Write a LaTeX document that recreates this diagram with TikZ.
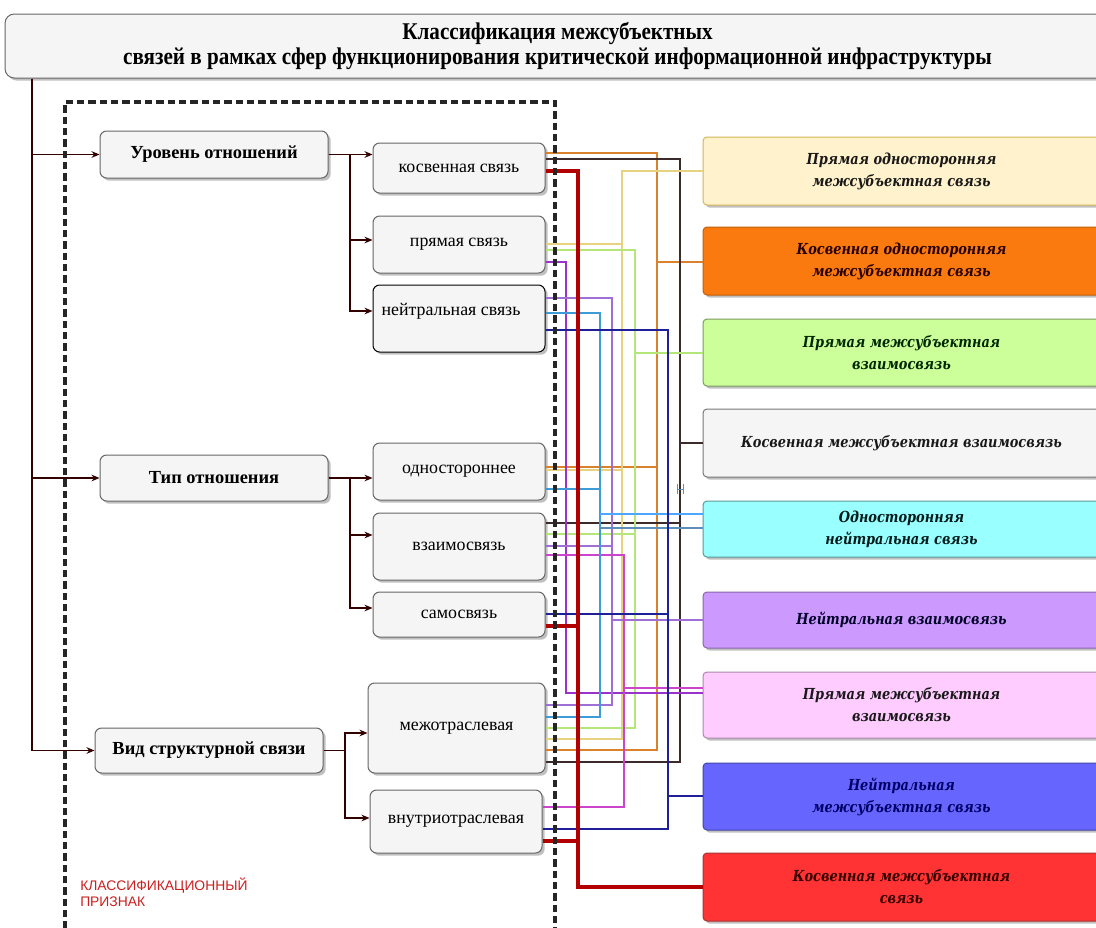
\documentclass[tikz,border=0pt]{standalone}
\usepackage{fontspec}
\setmainfont{Liberation Serif}
\newfontfamily\rfont[FakeStretch=0.85]{DejaVu Serif}
\newfontfamily\lsans{Liberation Sans}
\newfontfamily\tfont[FakeStretch=0.88]{Liberation Serif}
\usetikzlibrary{arrows.meta,shadows}
\definecolor{boxfill}{HTML}{F5F5F5}
\definecolor{boxline}{HTML}{666666}
\definecolor{conn}{HTML}{330000}
\definecolor{c1f}{HTML}{FFF2CC}\definecolor{c1d}{HTML}{D6B656}
\definecolor{c2f}{HTML}{FA7A0F}\definecolor{c2d}{HTML}{C0600C}
\definecolor{c3f}{HTML}{CCFF99}\definecolor{c3d}{HTML}{7A9A60}
\definecolor{c4f}{HTML}{F5F5F5}\definecolor{c4d}{HTML}{777777}
\definecolor{c5f}{HTML}{99FFFF}\definecolor{c5d}{HTML}{5A9A9A}
\definecolor{c6f}{HTML}{CC99FF}\definecolor{c6d}{HTML}{8866AA}
\definecolor{c7f}{HTML}{FFCCFF}\definecolor{c7d}{HTML}{AA88AA}
\definecolor{c8f}{HTML}{6666FF}\definecolor{c8d}{HTML}{4444AA}
\definecolor{c9f}{HTML}{FF3333}\definecolor{c9d}{HTML}{AA3333}
\definecolor{lOr}{HTML}{D9822B}
\definecolor{lDk}{HTML}{3D2B2B}
\definecolor{lRd}{HTML}{B20000}
\definecolor{lYe}{HTML}{E6D27F}
\definecolor{lGr}{HTML}{B5E67A}
\definecolor{lVi}{HTML}{9933CC}
\definecolor{lPu}{HTML}{9F6FD6}
\definecolor{lMa}{HTML}{CC44CC}
\definecolor{lLb}{HTML}{3D9BD6}
\definecolor{lBb}{HTML}{4DA6FF}
\definecolor{lSb}{HTML}{5B8FB9}
\definecolor{lNv}{HTML}{1F1F99}
\definecolor{lgnd}{HTML}{CC1F1F}
\newcommand\bx[7]{\node[#6, minimum width={(#4-#2)*0.75pt}, minimum height={(#5-#3)*0.75pt}] (#1) at ({(#2+#4)/2},{(#3+#5)/2}) {#7};}
\begin{document}
\begin{tikzpicture}[x=0.75pt,y=-0.75pt,
  shd/.style={drop shadow={shadow xshift=2pt,shadow yshift=-2pt,opacity=0.35,fill=black!70}},
  box/.style={draw=boxline, fill=boxfill, rounded corners=5pt, line width=0.75pt, shd, inner sep=0pt, align=center},
  lone/.style={box, font=\bfseries\fontsize{13.8}{15}\selectfont},
  ltwo/.style={box, font=\fontsize{13.4}{15}\selectfont},
  res/.style={rounded corners=3pt, line width=0.75pt, shd, inner sep=0pt, align=center, font=\rfont\bfseries\itshape\fontsize{11.4}{16.5}\selectfont},
  cn/.style={draw=conn, line width=1.1pt, -{Stealth[length=6pt,width=5pt]}},
  thin/.style={line width=1pt},
  lor/.style={thin, draw=lOr}, ldk/.style={thin, draw=lDk, line width=1.1pt},
  lrd/.style={draw=lRd, line width=3pt}, lye/.style={thin, draw=lYe},
  lgr/.style={thin, draw=lGr}, lvi/.style={thin, draw=lVi},
  lpu/.style={thin, draw=lPu}, lma/.style={thin, draw=lMa},
  llb/.style={thin, draw=lLb}, lbb/.style={thin, draw=lBb},
  lsb/.style={thin, draw=lSb}, lnv/.style={draw=lNv, line width=2.2pt}
]
\useasboundingbox (0,0) rectangle (1096,928);
\fill[white] (0,0) rectangle (1096,928);

% title
\node[box, rounded corners=7pt, minimum width={1105*0.75pt}, minimum height={64*0.75pt},
  font=\tfont\bfseries\fontsize{18}{19}\selectfont] (title) at (557.5,46)
  {Классификация межсубъектных\\связей в рамках сфер функционирования критической информационной инфраструктуры};

% level 1
\bx{urov}{100}{131}{328}{178}{lone}{Уровень отношений}
\bx{tip}{100}{455}{328}{501}{lone}{Тип отношения}
\bx{vid}{95}{728}{323}{773}{lone}{Вид структурной связи}

% level 2
\bx{kos}{373}{143}{545}{193}{ltwo}{косвенная связь}
\bx{pry}{373}{216}{545}{273}{ltwo}{прямая связь}
\bx{ney}{373}{285}{545}{352}{ltwo, draw=black}{}
\node[font=\fontsize{13.4}{15}\selectfont, inner sep=0pt] (neyT) at (451,311) {нейтральная связь};
\bx{odn}{373}{443}{545}{500}{ltwo}{одностороннее}
\bx{vza}{373}{513}{545}{580}{ltwo}{взаимосвязь}
\bx{sam}{373}{592}{545}{637}{ltwo}{самосвязь}
\bx{mej}{368}{683}{545}{773}{ltwo}{межотраслевая}
\bx{vnu}{370}{790}{542}{853}{ltwo}{внутриотраслевая}

% result boxes
\bx{R1}{703}{137}{1100}{205}{res, fill=c1f, draw=c1d, text=black!90}{Прямая односторонняя\\межсубъектная связь}
\bx{R2}{703}{227}{1100}{295}{res, fill=c2f, draw=c2d, text=black!85!red}{Косвенная односторонняя\\межсубъектная связь}
\bx{R3}{703}{319}{1100}{386}{res, fill=c3f, draw=c3d, text=black!85!green}{Прямая межсубъектная\\взаимосвязь}
\bx{R4}{703}{409}{1100}{477}{res, fill=c4f, draw=c4d, text=black!90}{Косвенная межсубъектная взаимосвязь}
\bx{R5}{703}{501}{1100}{557}{res, fill=c5f, draw=c5d, text=black!80!teal}{Односторонняя\\нейтральная связь}
\bx{R6}{703}{592}{1100}{648}{res, fill=c6f, draw=c6d, text=black!85!blue}{Нейтральная взаимосвязь}
\bx{R7}{703}{672}{1100}{738}{res, fill=c7f, draw=c7d, text=black!90}{Прямая межсубъектная\\взаимосвязь}
\bx{R8}{703}{763}{1100}{830}{res, fill=c8f, draw=c8d, text=black!60!blue}{Нейтральная\\межсубъектная связь}
\bx{R9}{703}{853}{1100}{921}{res, fill=c9f, draw=c9d, text=black!80!red}{Косвенная межсубъектная\\связь}

% trunk connectors
\coordinate (trunk) at (title.south -| 32,0);
\draw[cn] (trunk) |- (urov.west);
\draw[cn] (trunk) |- (tip.west);
\draw[cn] (trunk) |- (vid.west);

% level1 -> level2
\draw[cn] (urov.east) -- (kos.west |- urov.east);
\draw[cn] (urov.east) -| (350,240) -- (pry.west |- 0,240);
\draw[cn] (urov.east) -| (350,311) -- (ney.west |- 0,311);
\draw[cn] (tip.east) -- (odn.west |- tip.east);
\draw[cn] (tip.east) -| (350,535) -- (vza.west |- 0,535);
\draw[cn] (tip.east) -| (350,608) -- (sam.west |- 0,608);
\draw[cn] (vid.east) -| (345,733) -- (mej.west |- 0,733);
\draw[cn] (vid.east) -| (345,818) -- (vnu.west |- 0,818);

% coloured connectors
% orange: R2
\draw[lor] (kos.east |- 0,153) -| (657,750) -- (mej.east |- 0,750);
\draw[lor] (odn.east |- 0,467) -- (657,467);
\draw[lor] (657,262) -- (R2.west |- 0,262);
% dark: R4
\draw[ldk] (kos.east |- 0,159) -| (680,762) -- (mej.east |- 0,762);
\draw[ldk] (vza.east |- 0,523) -- (680,523);
\draw[ldk] (680,443) -- (R4.west |- 0,443);
% yellow: R1
\draw[lye] (R1.west |- 0,171) -| (622,739) -- (mej.east |- 0,739);
\draw[lye] (pry.east |- 0,244) -- (622,244);
\draw[lye] (odn.east |- 0,470) -- (622,470);
% green: R3
\draw[lgr] (pry.east |- 0,250) -| (635,728) -- (mej.east |- 0,728);
\draw[lgr] (vza.east |- 0,534) -- (635,534);
\draw[lgr] (635,353) -- (R3.west |- 0,353);
% violet: R7
\draw[lvi] (pry.east |- 0,262) -| (566,693) -- (R7.west |- 0,693);
% purple: R6
\draw[lpu] (ney.east |- 0,298) -| (612,705) -- (mej.east |- 0,705);
\draw[lpu] (vza.east |- 0,546) -- (612,546);
\draw[lpu] (612,620) -- (R6.west |- 0,620);
% magenta: R7
\draw[lma] (vza.east |- 0,555) -| (624,807) -- (vnu.east |- 0,807);
\draw[lma] (624,688) -- (R7.west |- 0,688);
% light blue: R5
\draw[llb] (ney.east |- 0,313) -| (600,717) -- (mej.east |- 0,717);
\draw[llb] (odn.east |- 0,489) -- (600,489);
\draw[lbb] (600,514) -- (R5.west |- 0,514);
\draw[lsb] (600,528) -- (R5.west |- 0,528);
% navy: R8
\draw[lnv] (ney.east |- 0,330) -| (668,829) -- (vnu.east |- 0,829);
\draw[lnv] (sam.east |- 0,614) -- (668,614);
\draw[lnv] (668,796) -- (R8.west |- 0,796);
% red: R9
\draw[lrd] (kos.east |- 0,171) -| (578,887) -- (R9.west |- 0,887);
\draw[lrd] (sam.east |- 0,626) -- (578,626);
\draw[lrd] (vnu.east |- 0,841) -- (578,841);
% small mark
\draw[lSb, line width=0.6pt] (677,484) -- (677,494) (683,484) -- (683,494) (677,489) -- (683,489);

% dashed frame
\draw[black!85, line width=2.3pt, dash pattern=on 5.5pt off 3pt] (65,940) -- (65,102) -- (555,102) -- (555,940);

% legend
\node[anchor=north west, align=left, text=lgnd, inner sep=0pt,
  font=\lsans\fontsize{10.4}{12}\selectfont] (lg) at (80,878) {КЛАССИФИКАЦИОННЫЙ\\ПРИЗНАК};
\end{tikzpicture}
\end{document}
